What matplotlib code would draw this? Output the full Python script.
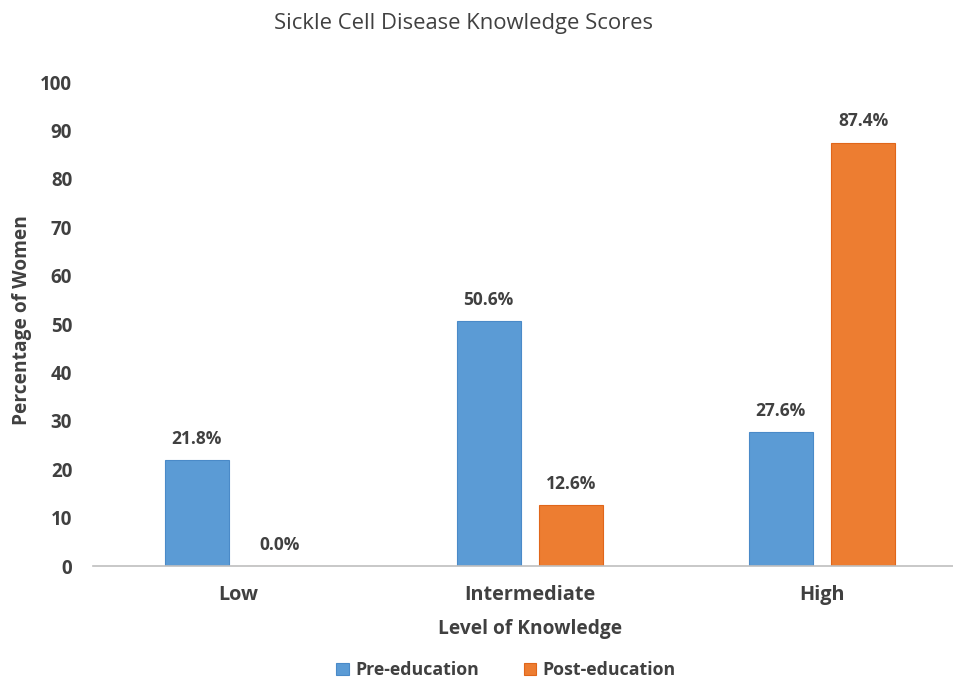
import matplotlib
matplotlib.use("Agg")
import matplotlib.pyplot as plt
import numpy as np

categories = ["Low", "Intermediate", "High"]
pre_education = [21.8, 50.6, 27.6]
post_education = [0.0, 12.6, 87.4]
series_names = ["Pre-education", "Post-education"]
yticks = list(range(0, 101, 10))

plt.rcParams['font.family'] = ['Open Sans', 'DejaVu Sans']
BLUE = "#5B9BD5"
ORANGE = "#ED7D31"
TXT = "#404040"

fig = plt.figure(figsize=(9.54, 6.79), dpi=100)
ax = fig.add_axes([93/954, 1-566/679, (953-93)/954, (566-82)/679])

x = np.arange(len(categories))
w = 0.219
off = 0.142
b1 = ax.bar(x - off, pre_education, w, color=BLUE, edgecolor="#4A8AC8", linewidth=0.8, label=series_names[0])
b2 = ax.bar(x + off, post_education, w, color=ORANGE, edgecolor="#E0661A", linewidth=0.8, label=series_names[1])

for bars, vals in ((b1, pre_education), (b2, post_education)):
    for r, v in zip(bars, vals):
        ax.annotate(f"{v:.1f}%", (r.get_x() + r.get_width()/2, v), xytext=(0, 9),
                    textcoords="offset points", ha="center", va="bottom",
                    fontsize=12.5, fontweight="bold", color=TXT)

ax.set_xlim(-(238-93)/292, 2 + (953-822)/292)
ax.set_ylim(0, 100)
ax.set_yticks(yticks)
ax.set_xticks(x)
ax.set_xticklabels(categories)
ax.tick_params(axis="y", length=0, pad=15, labelsize=13.5, labelcolor=TXT)
ax.tick_params(axis="x", length=0, pad=14, labelsize=14.3, labelcolor=TXT)
for lbl in ax.get_yticklabels() + ax.get_xticklabels():
    lbl.set_fontweight("bold")
for s in ("top", "right", "left"):
    ax.spines[s].set_visible(False)
ax.spines["bottom"].set_color("#BFBFBF")
ax.spines["bottom"].set_linewidth(1.2)

ax.set_xlabel("Level of Knowledge", fontsize=13.8, fontweight="bold", color=TXT)
ax.xaxis.set_label_coords((530-93)/860, -(629-566)/484)
ax.xaxis.label.set_va("center")
fig.text(22/954, 1-320/679, "Percentage of Women", rotation=90, fontsize=13.8, fontweight="bold",
         color=TXT, ha="center", va="center")
fig.text(464/954, 1-24/679, "Sickle Cell Disease Knowledge Scores", fontsize=15.8, color=TXT,
         ha="center", va="center")

leg = fig.legend(handles=[b1, b2], loc="center", bbox_to_anchor=(506/954, 1-670/679), ncol=2,
                 frameon=False, fontsize=12.8, handlelength=0.7, handleheight=0.7,
                 columnspacing=2.55, handletextpad=0.35)
for t in leg.get_texts():
    t.set_fontweight("bold")
    t.set_color(TXT)

fig.savefig("out.png", dpi=100)
